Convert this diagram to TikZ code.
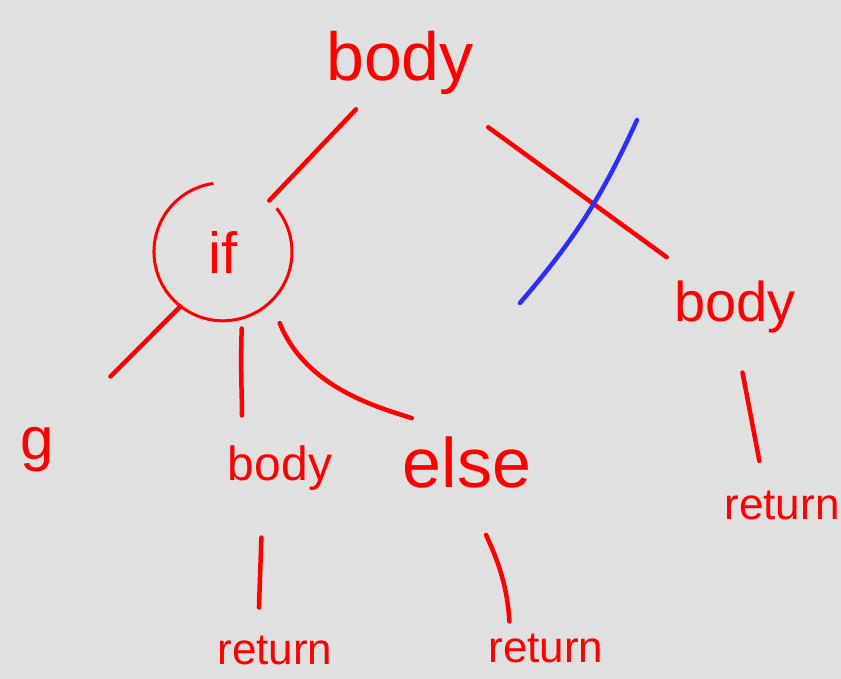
\documentclass[tikz,border=0pt]{standalone}
\usepackage{fontspec}
\setmainfont{Liberation Sans}
\definecolor{board}{RGB}{224,224,224}
\definecolor{ink}{RGB}{255,0,0}
\definecolor{strike}{RGB}{45,45,250}
\tikzset{
  word/.style={text=ink, inner sep=0pt},
  wire/.style={draw=ink, line width=4.5pt, line cap=round},
}
\newcommand{\fsz}[1]{\fontsize{#1}{#1}\selectfont}
\begin{document}
\begin{tikzpicture}[x=1pt,y=1pt]
\fill[board] (0,0) rectangle (841,679);
\useasboundingbox (0,0) rectangle (841,679);

\node[word, font=\fsz{68}] (body) at (400,616) {body};
\node[word, circle, minimum size=138pt, font=\fsz{58}] (if) at (223,427) {if};
\node[word, font=\fsz{60}] (g) at (37,229) {g};
\node[word, font=\fsz{48}] (bmid) at (280,211) {body};
\node[word, font=\fsz{70}] (else) at (467,217) {else};
\node[word, font=\fsz{44}] (ret1) at (275,29) {return};
\node[word, font=\fsz{44}] (ret2) at (546,31) {return};
\node[word, font=\fsz{56}] (rbody) at (735,372) {body};
\node[word, font=\fsz{44}] (ret3) at (782,174) {return};

\draw[ink, line width=3pt] (if.98) arc[start angle=98, end angle=399, radius=69pt];

\draw[wire, shorten <=20pt] (body) -- (if.48);
\draw[wire, shorten <=55pt, shorten >=40pt] (body) -- (rbody);
\draw[strike, line width=4.5pt, line cap=round] (637,559) to[bend left=8] (520,376);

\draw[wire, shorten >=80pt] (if.232) -- (g);
\draw[wire, shorten <=10pt, shorten >=30pt] (if.-74) to[out=-92,in=90] ([xshift=-38pt]bmid.north);
\draw[wire, shorten <=23pt, shorten >=58pt] (if.-46) to[out=-68,in=162] (else.north);

\draw[wire, shorten <=47pt, shorten >=28pt] ([xshift=-17pt]bmid.south) -- ([xshift=-17pt]ret1.north);
\draw[wire, shorten <=50pt, shorten >=12pt] ([xshift=2pt]else.south) to[out=-70,in=93] ([xshift=-36pt]ret2.north);
\draw[wire, shorten <=40pt, shorten >=30pt] (rbody.south) -- ([xshift=-17pt]ret3.north);

\end{tikzpicture}
\end{document}
